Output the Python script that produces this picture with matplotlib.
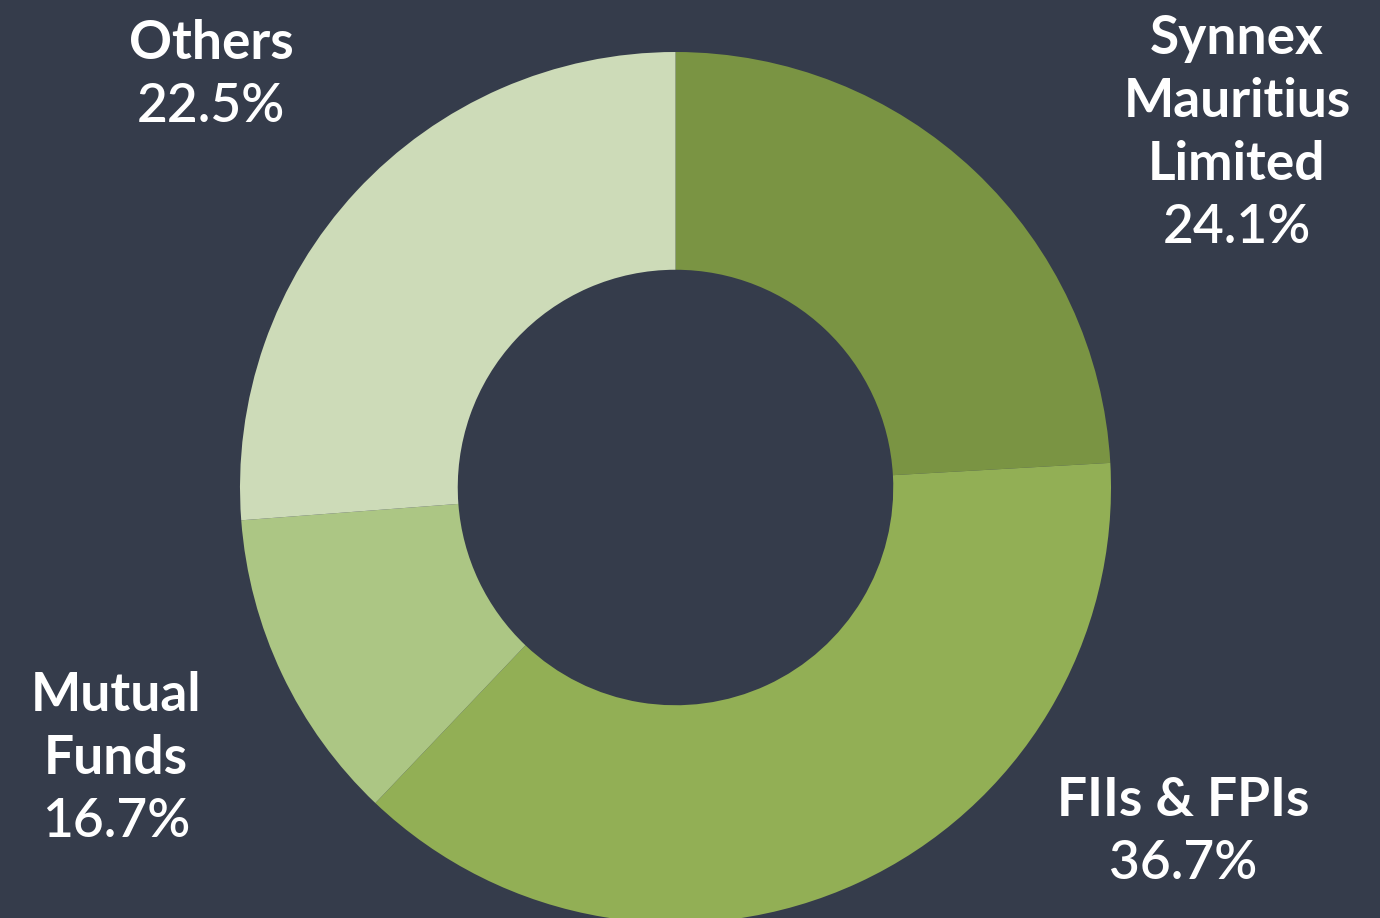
import matplotlib
matplotlib.use("Agg")
import matplotlib.pyplot as plt

# shareholding split (slice sizes as drawn, label text as printed)
holders = ["Synnex\nMauritius\nLimited", "FIIs & FPIs", "Mutual\nFunds", "Others"]
shares = [24.1, 38.0, 11.7, 26.2]
share_labels = ["24.1%", "36.7%", "16.7%", "22.5%"]
colors = ["#7a9443", "#92af55", "#acc684", "#cddbb8"]
BG = "#353c4b"

W, H = 1380, 918
CX, CY, R = 675.5, 487.5, 435.5

fig = plt.figure(figsize=(W / 100, H / 100), dpi=100, facecolor=BG)
ax = fig.add_axes([0, 0, 1, 1])
ax.set_facecolor(BG)

ax.pie(shares, colors=colors, startangle=90, counterclock=False,
       radius=1.0, wedgeprops=dict(width=0.5, linewidth=0))

ax.set_xlim(-CX / R, (W - CX) / R)
ax.set_ylim(-(H - CY) / R, CY / R)
ax.set_aspect("equal")
ax.axis("off")

# label anchors in pixel coords (centre x, top y)
label_pos = [(1237, 14), (1183, 776), (116, 671), (211, 19)]

for name, pct, (px, py) in zip(holders, share_labels, label_pos):
    n_lines = name.count("\n") + 1
    for i, line in enumerate(name.split("\n")):
        y = py + i * 63
        fig.text(px / W, 1 - y / H, line, ha="center", va="top",
                 fontsize=38.3, color="white", family="Lato", fontweight="bold")
    y = py + n_lines * 63
    fig.text(px / W, 1 - y / H, pct, ha="center", va="top",
             fontsize=38.3, color="white", family="Lato", fontweight="semibold")

fig.savefig("out.png", dpi=100, facecolor=BG)
